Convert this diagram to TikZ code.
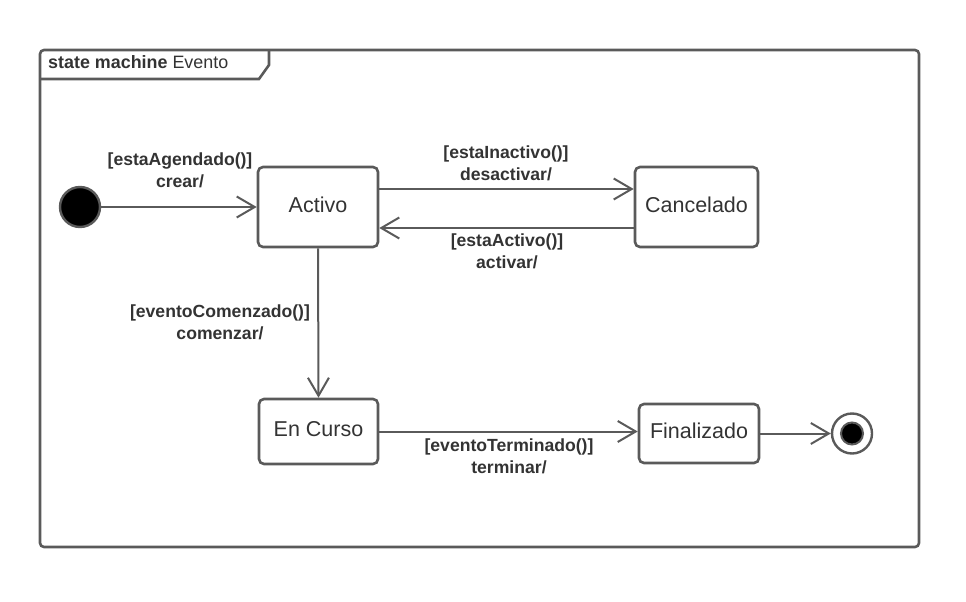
\documentclass[tikz,border=0pt]{standalone}
\usepackage{fontspec}
\setmainfont{Liberation Sans}
\usetikzlibrary{arrows.meta}
\definecolor{strk}{HTML}{5A5A5A}
\definecolor{txt}{HTML}{333333}
\tikzset{
  statebox/.style={draw=strk, line width=2.6pt, rounded corners=5pt, fill=white,
    inner sep=0pt, text=txt, text height=16pt, text depth=6pt, font=\fontsize{21.5}{26}\selectfont},
  trans/.style={draw=strk, line width=2pt, -{Straight Barb[length=18pt,width=21pt,line width=2pt]}},
  lbl/.style={text=txt, font=\fontsize{17.6}{22}\selectfont\bfseries, align=center, inner sep=0pt},
}
\begin{document}
\begin{tikzpicture}[x=1pt,y=-1pt]
\useasboundingbox (0,0) rectangle (966,602);
% frame
\draw[strk, line width=2.6pt, rounded corners=4pt] (40,50) rectangle (919,547);
\draw[strk, line width=2.6pt] (40,79) -- (259,79) -- (269,65) -- (269,50);
\node[anchor=base west, text=txt, inner sep=0pt, font=\fontsize{17.9}{22}\selectfont] (title) at (48,69) {\textbf{state machine} Evento};
% states
\node[draw=strk, line width=2.4pt, fill=black, circle, minimum size=40pt, inner sep=0pt] (init) at (80,207) {};
\node[statebox, minimum width=120pt, minimum height=80pt] (activo) at (318,207) {Activo};
\node[statebox, minimum width=123pt, minimum height=80pt] (cancel) at (696.5,207) {Cancelado};
\node[statebox, minimum width=119pt, minimum height=65pt] (curso) at (318.5,431.5) {En Curso};
\node[statebox, minimum width=120pt, minimum height=59pt] (fin) at (699,433.5) {Finalizado};
\node[draw=strk, line width=2.4pt, fill=white, circle, minimum size=40pt, inner sep=0pt] (final) at (852,433.5) {};
\node[draw=strk, line width=2pt, fill=black, circle, minimum size=22pt, inner sep=0pt] (finaldot) at (852,433.5) {};
% transitions
\draw[trans] (init.east) -- (activo.west);
\draw[trans] ([yshift=18pt]activo.east) -- ([yshift=18pt]cancel.west);
\draw[trans] ([yshift=-21pt]cancel.west) -- ([yshift=-21pt]activo.east);
\draw[trans] (activo.south) -- (curso.north);
\draw[trans] (curso.east) -- (curso.east -| fin.west);
\draw[trans] (fin.east) -- (final.west);
% labels
\node[lbl] (l1) at (180,170) {[estaAgendado()]\\crear/};
\node[lbl] (l2) at (506,163) {[estaInactivo()]\\desactivar/};
\node[lbl] (l3) at (507,251) {[estaActivo()]\\activar/};
\node[lbl] (l4) at (220,322) {[eventoComenzado()]\\comenzar/};
\node[lbl] (l5) at (509,456) {[eventoTerminado()]\\terminar/};
\end{tikzpicture}
\end{document}
